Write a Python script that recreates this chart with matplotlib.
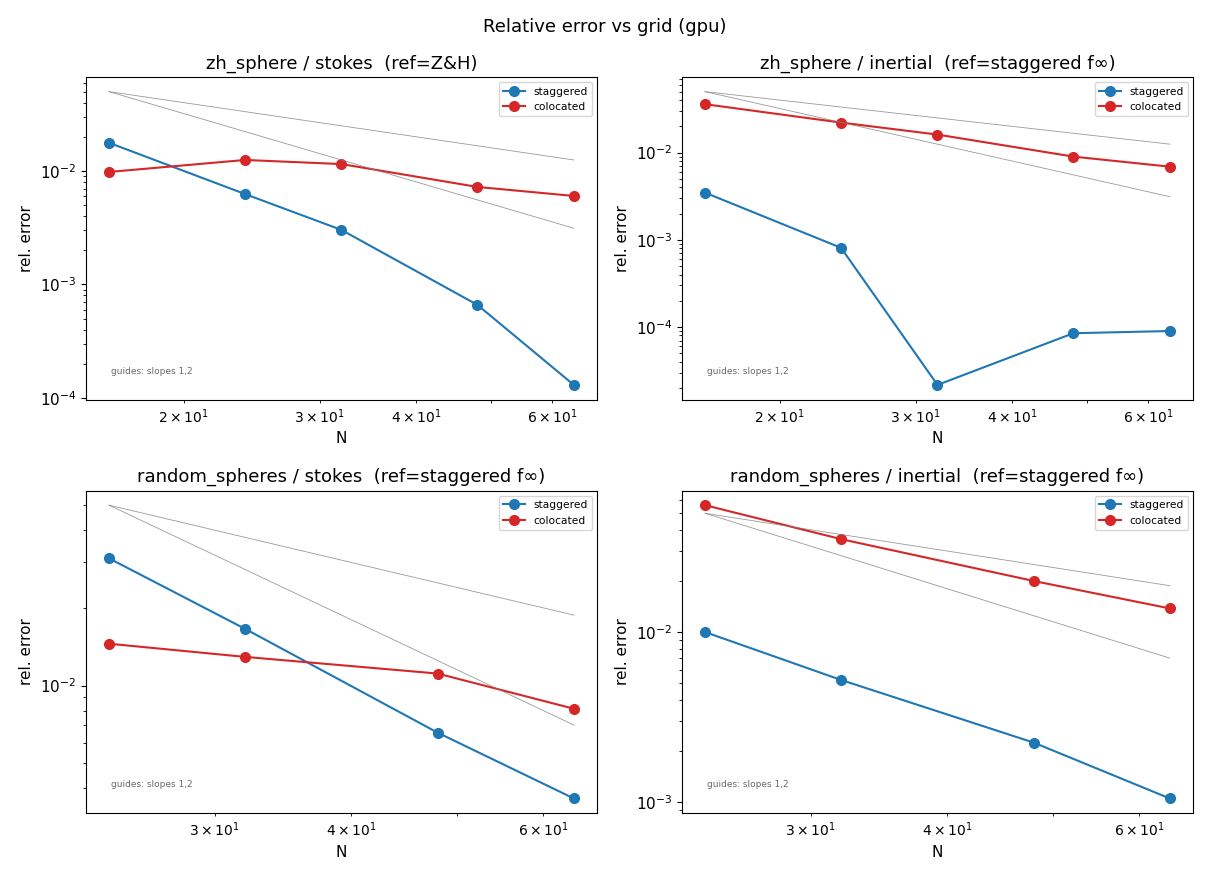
import numpy as np
import matplotlib
matplotlib.use('Agg')
import matplotlib.pyplot as plt

# grid sizes
N_zh = [16, 24, 32, 48, 64]
N_rs = [24, 32, 48, 64]

# relative errors
zh_stokes_stag = [0.0177, 0.00626, 0.00302, 0.00066, 0.000130]
zh_stokes_colo = [0.0098, 0.0125, 0.0115, 0.00723, 0.00602]
zh_inert_stag = [0.00347, 0.00081, 2.17e-5, 8.5e-5, 9.0e-5]
zh_inert_colo = [0.0359, 0.0221, 0.0161, 0.0090, 0.0069]
rs_stokes_stag = [0.0311, 0.01656, 0.00657, 0.00365]
rs_stokes_colo = [0.01452, 0.01291, 0.01113, 0.00813]
rs_inert_stag = [0.0100, 0.00522, 0.00224, 0.00105]
rs_inert_colo = [0.0558, 0.0352, 0.0200, 0.01378]

guide_start = 0.05

panels = [
    ("zh_sphere / stokes  (ref=Z&H)", N_zh, zh_stokes_stag, zh_stokes_colo),
    ("zh_sphere / inertial  (ref=staggered f\u221e)", N_zh, zh_inert_stag, zh_inert_colo),
    ("random_spheres / stokes  (ref=staggered f\u221e)", N_rs, rs_stokes_stag, rs_stokes_colo),
    ("random_spheres / inertial  (ref=staggered f\u221e)", N_rs, rs_inert_stag, rs_inert_colo),
]

fig, axes = plt.subplots(2, 2, figsize=(12.1, 8.8), dpi=100)
for ax, (title, N, stag, colo) in zip(axes.flat, panels):
    N = np.array(N, dtype=float)
    ax.loglog(N, stag, 'o-', color='tab:blue', label='staggered', ms=7)
    ax.loglog(N, colo, 'o-', color='tab:red', label='colocated', ms=7)
    # slope guides
    for p in (1, 2):
        ax.loglog([N[0], N[-1]], [guide_start, guide_start * (N[0] / N[-1]) ** p],
                  color='gray', lw=0.6, alpha=0.8)
    ax.text(0.05, 0.08, "guides: slopes 1,2", transform=ax.transAxes,
            fontsize=6.5, color='dimgray')
    ax.set_title(title, fontsize=13)
    ax.set_xlabel("N", fontsize=11)
    ax.set_ylabel("rel. error", fontsize=11)
    ax.tick_params(labelsize=11)
    ax.legend(fontsize=7.7)

fig.suptitle("Relative error vs grid (gpu)", fontsize=13, y=0.979)
fig.subplots_adjust(left=0.071, right=0.986, top=0.9125, bottom=0.076,
                    wspace=0.166, hspace=0.282)
fig.savefig("out.png", dpi=100)
